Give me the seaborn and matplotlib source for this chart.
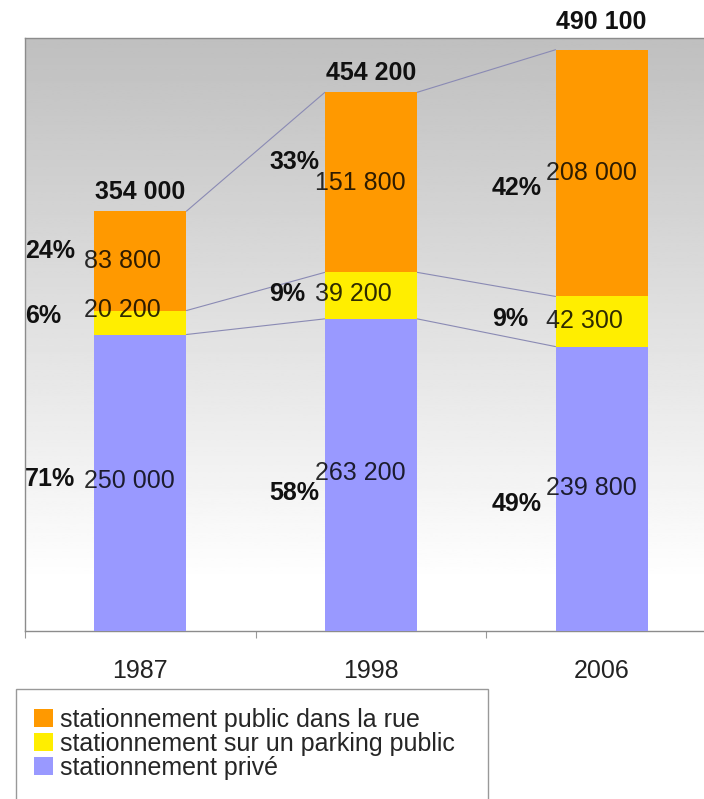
import numpy as np
import pandas as pd
import matplotlib
matplotlib.use("Agg")
import matplotlib.pyplot as plt
from matplotlib.patches import Patch, Rectangle
import seaborn as sns

years = ["1987", "1998", "2006"]
prive = [250000, 263200, 239800]
parking = [20200, 39200, 42300]
rue = [83800, 151800, 208000]
series_names = ["stationnement public dans la rue",
                "stationnement sur un parking public",
                "stationnement privé"]
colors = {"rue": "#FF9900", "parking": "#FFEE00", "prive": "#9999FF"}


def fmt(v):
    return f"{v:,}".replace(",", " ")


sns.set_theme(style="white")
plt.rcParams["font.family"] = ["Liberation Sans", "DejaVu Sans"]

PX = 0.72  # points per pixel at dpi 100

fig = plt.figure(figsize=(7.04, 7.99), dpi=100)
ax = fig.add_axes([25 / 704, 1 - 631 / 799, 692 / 704, 593 / 799])

# gradient background (gray at top -> white at bottom)
t = np.linspace(0, 1, 256)
grad = (0.75 + 0.25 * np.minimum(t / 0.92, 1)).reshape(-1, 1)
ax.imshow(grad, extent=[-0.5, 2.5, 0, 500000], aspect="auto", cmap="gray",
          vmin=0, vmax=1, zorder=0, origin="upper")

df = pd.DataFrame({"year": years, "prive": prive, "parking": parking, "rue": rue})
df["c1"] = df["prive"]
df["c2"] = df["prive"] + df["parking"]
df["c3"] = df["c2"] + df["rue"]

bw = 0.4
sns.barplot(data=df, x="year", y="c3", color=colors["rue"], width=bw,
            saturation=1, ax=ax, zorder=2, linewidth=0)
sns.barplot(data=df, x="year", y="c2", color=colors["parking"], width=bw,
            saturation=1, ax=ax, zorder=3, linewidth=0)
sns.barplot(data=df, x="year", y="c1", color=colors["prive"], width=bw,
            saturation=1, ax=ax, zorder=4, linewidth=0)

# series lines between bars
for col in ["c1", "c2", "c3"]:
    vals = df[col].values
    for i in range(len(vals) - 1):
        ax.plot([i + bw / 2, i + 1 - bw / 2], [vals[i], vals[i + 1]],
                color="#8a8ab4", lw=0.8, zorder=1.5)

ax.set_xlim(-0.5, 2.5)
ax.set_ylim(0, 500000)
ax.set_xlabel("")
ax.set_ylabel("")
ax.set_yticks([])
ax.set_xticks(range(3))
ax.set_xticklabels(years, fontsize=18, color="#222222")
ax.set_xticks([-0.5, 0.5, 1.5], minor=True)
ax.tick_params(axis="x", which="major", length=0, pad=20)
ax.tick_params(axis="x", which="minor", length=5, color="#999999", width=0.8,
               bottom=True)
for s in ax.spines.values():
    s.set_color("#8c8c8c")
    s.set_linewidth(1.0)

# labels (pixel offsets: +down)
seg_cols = [("rue", "c2"), ("parking", "c1"), ("prive", None)]
pct_x = [-115, -102, -110]
val_x = -56
tot_dy = [7, 7, 16]
pct_dy = {"rue": [-10, -20, 15], "parking": [-7, -2, -3], "prive": [-4, 18, 15]}
val_dy = {"rue": [0, 1, 0], "parking": [-13, -2, -1], "prive": [-2, -2, -1]}
for i in range(3):
    total = df["c3"].iloc[i]
    ax.annotate(fmt(total), (i, total), xytext=(0, tot_dy[i] * PX),
                textcoords="offset points",
                ha="center", va="bottom", fontsize=18, fontweight="bold",
                color="#111111", zorder=6)
    for name, base in seg_cols:
        v = df[name].iloc[i]
        b = 0 if base is None else df[base].iloc[i]
        yc = b + v / 2
        ax.annotate(fmt(v), (i, yc), xytext=(val_x * PX, -val_dy[name][i] * PX),
                    textcoords="offset points", ha="left", va="center",
                    fontsize=18, color="black", alpha=0.82, zorder=6)
        pct = round(100 * v / total)
        ax.annotate(f"{pct}%", (i, yc),
                    xytext=(pct_x[i] * PX, -pct_dy[name][i] * PX),
                    textcoords="offset points", ha="left", va="center",
                    fontsize=18, fontweight="bold", color="#111111", zorder=6)

# legend box
fig.patches.append(Rectangle((16 / 704, -0.01), (488 - 16) / 704,
                             (1 - 689 / 799) + 0.01, transform=fig.transFigure,
                             facecolor="white", edgecolor="#999999", lw=1.0))
handles = [Patch(facecolor=colors[k], edgecolor="none") for k in ["rue", "parking", "prive"]]
fig.legend(handles, series_names, loc="upper left",
           bbox_to_anchor=(34 / 704, 1 - 708 / 799), frameon=False,
           fontsize=18, handlelength=0.75, handleheight=0.75, handletextpad=0.3,
           labelspacing=0.0, borderpad=0, borderaxespad=0)

fig.savefig("out.png", dpi=100)
